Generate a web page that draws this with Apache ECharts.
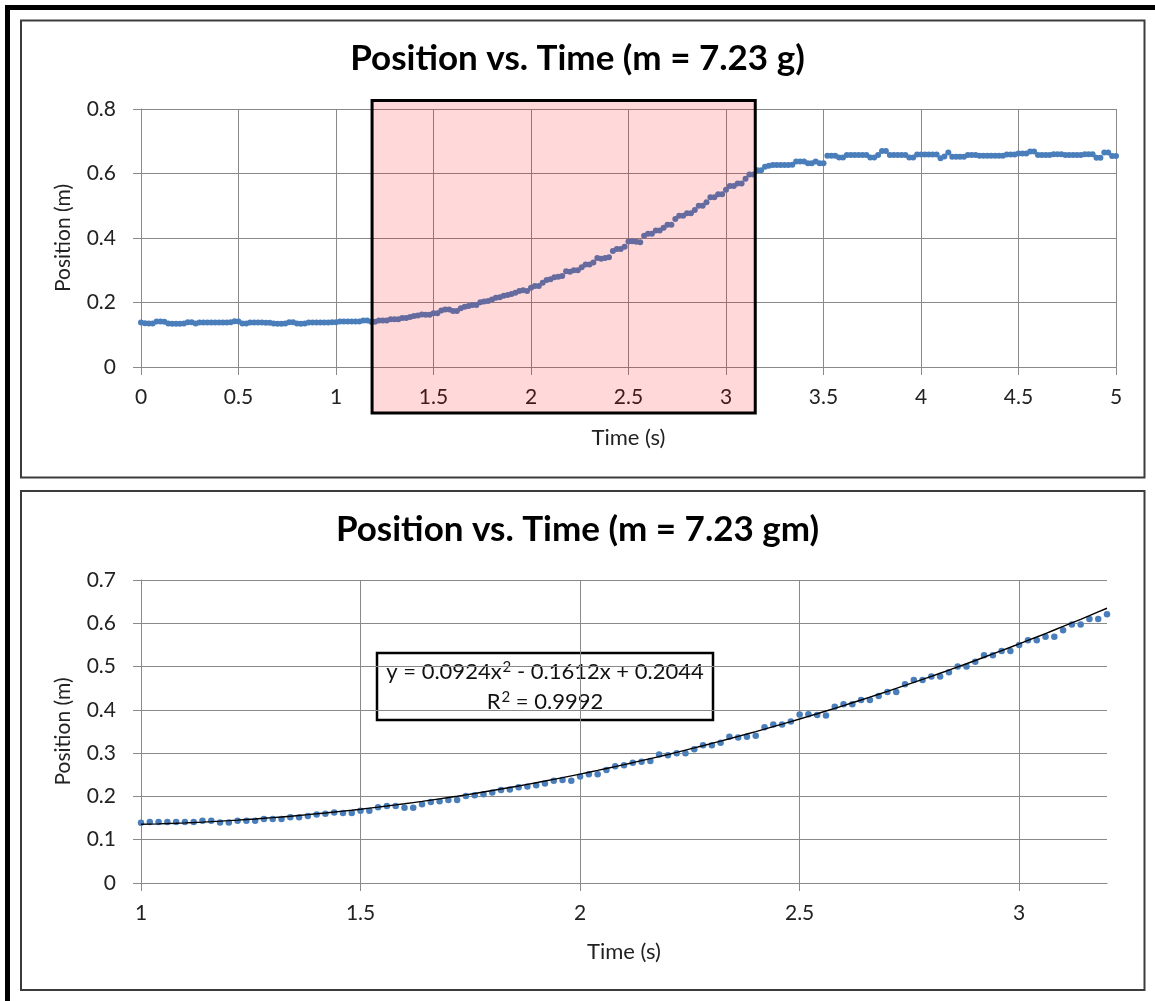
<!DOCTYPE html>
<html>
<head>
<meta charset="utf-8">
<script src="https://cdn.jsdelivr.net/npm/echarts@6/dist/echarts.min.js"></script>
<style>
html,body{margin:0;padding:0;background:#fff;}
#c{width:1155px;height:1001px;}
</style>
</head>
<body>
<div id="c"></div>
<script>
// ---------------- data ----------------
const SAMPLE_STEP = 0.02; // s between samples, first sample at t = 0

// position (m), t = 0.00 … 0.98 s (cart at rest)
const posRest = [
  0.138,0.136,0.135,0.135,0.141,0.141,0.140,0.135,0.134,0.134,
  0.134,0.135,0.139,0.139,0.135,0.138,0.138,0.138,0.138,0.138,
  0.138,0.138,0.138,0.139,0.142,0.141,0.135,0.135,0.138,0.138,
  0.138,0.138,0.137,0.137,0.135,0.134,0.134,0.135,0.139,0.139,
  0.135,0.134,0.135,0.138,0.138,0.138,0.138,0.138,0.138,0.139
];

// position (m), t = 1.00 … 3.20 s (accelerating part, shown in lower chart)
const posMotion = [
  0.139,0.141,0.141,0.141,0.141,0.141,0.141,0.144,0.144,0.140,
  0.140,0.144,0.144,0.144,0.148,0.148,0.148,0.152,0.152,0.155,
  0.158,0.160,0.163,0.162,0.162,0.167,0.167,0.175,0.178,0.178,
  0.174,0.174,0.182,0.187,0.189,0.192,0.192,0.201,
  0.203,0.205,0.209,0.215,0.216,0.221,0.223,0.226,0.230,0.236,
  0.238,0.236,0.246,0.251,0.251,0.261,0.270,0.272,0.278,0.280,
  0.282,0.297,0.295,0.300,0.300,0.309,0.318,0.318,0.324,0.338,
  0.336,0.338,0.340,0.360,0.366,0.366,0.373,
  0.389,0.390,0.388,0.387,0.407,0.413,0.413,0.423,0.423,0.432,
  0.441,0.441,0.459,0.469,0.469,0.477,0.477,0.487,0.500,0.500,
  0.511,0.526,0.526,0.536,0.536,0.550,0.561,0.561,0.569,0.569,
  0.584,0.597,0.597,0.610,0.610,0.621
];

// position (m), t = 3.22 … 5.00 s (cart stopped)
const posStopped = [
  0.624,0.626,0.626,0.626,0.626,0.626,0.627,0.637,0.637,0.637,
  0.632,0.632,0.637,0.632,0.632,0.655,0.655,0.655,0.650,0.650,
  0.657,0.657,0.657,0.657,0.657,0.657,0.650,0.650,0.657,0.670,
  0.670,0.657,0.657,0.657,0.657,0.657,0.650,0.650,0.659,0.659,
  0.659,0.659,0.659,0.659,0.647,0.653,0.665,0.652,0.652,0.652,
  0.652,0.657,0.657,0.657,0.655,0.655,0.655,0.655,0.655,0.655,
  0.655,0.659,0.659,0.659,0.662,0.662,0.662,0.668,0.668,0.657,
  0.657,0.657,0.657,0.660,0.660,0.660,0.657,0.657,0.657,0.657,
  0.657,0.660,0.660,0.660,0.649,0.649,0.665,0.665,0.654,0.654
];

// polynomial trendline shown on the lower chart: y = a x^2 + b x + c
const fitCoeffs = [0.0924, -0.1612, 0.2044];
const fitR2 = 0.9992;

// highlighted region on the upper chart (time s, position m)
const highlightTime = [1.185, 3.15];
const highlightPos  = [0.826, -0.143];

const titles = ['Position vs. Time (m = 7.23 g)', 'Position vs. Time (m = 7.23 gm)'];
const xNames = ['Time (s)', 'Time (s)'];
const yNames = ['Position (m)', 'Position (m)'];
const xTicksBottom = [1, 1.5, 2, 2.5, 3];

// ---------------- build ----------------
const allPos = posRest.concat(posMotion, posStopped);
const times = allPos.map((_, i) => Math.round(i * SAMPLE_STEP * 100) / 100);
const fullData = times.map((t, i) => [t, allPos[i]]);
const motionStart = posRest.length;
const motionData = fullData.slice(motionStart, motionStart + posMotion.length);
const trendData = motionData.map(d => [d[0], fitCoeffs[0]*d[0]*d[0] + fitCoeffs[1]*d[0] + fitCoeffs[2]]);

const FONT = 'Lato';
const GRID = '#898989';
const BLUE = '#4a7ebb';

function xAxisCfg(gi, min, max, name, gap, custom) {
  const o = {
    gridIndex: gi, type: 'value', min: min, max: max, interval: 0.5,
    name: name, nameLocation: 'middle', nameGap: gap,
    nameTextStyle: {fontFamily: FONT, fontSize: 22, color: '#222'},
    axisLine: {show: true, onZero: false, lineStyle: {color: GRID, width: 1}},
    axisTick: {show: true, inside: false, length: 8, lineStyle: {color: GRID, width: 1}},
    splitLine: {show: true, lineStyle: {color: GRID, width: 1}},
    axisLabel: {fontFamily: FONT, fontSize: 21, color: '#222', margin: 20}
  };
  if (custom) {
    o.axisTick.customValues = custom;
    o.axisLabel.customValues = custom;
  }
  return o;
}
function yAxisCfg(gi, max, interval, name) {
  return {
    gridIndex: gi, type: 'value', min: 0, max: max, interval: interval,
    name: name, nameLocation: 'middle', nameGap: 67,
    nameTextStyle: {fontFamily: FONT, fontSize: 21, color: '#222'},
    axisLine: {show: true, lineStyle: {color: GRID, width: 1}},
    axisTick: {show: true, inside: false, length: 8, lineStyle: {color: GRID, width: 1}},
    splitLine: {show: true, lineStyle: {color: GRID, width: 1}},
    axisLabel: {fontFamily: FONT, fontSize: 21, color: '#222', margin: 25}
  };
}

const eqRich = 'y = ' + fitCoeffs[0] + 'x{sup|2} ' + (fitCoeffs[1] < 0 ? '- ' : '+ ') +
  Math.abs(fitCoeffs[1]) + 'x + ' + fitCoeffs[2];
const r2Rich = 'R{sup|2} = ' + fitR2;
const eqStyle = {
  fontFamily: FONT, fontSize: 22, fill: '#111', align: 'center', verticalAlign: 'middle',
  rich: {sup: {fontFamily: FONT, fontSize: 15, fill: '#111', padding: [0, 0, 9, 1]}}
};

const chart = echarts.init(document.getElementById('c'), null, {renderer: 'canvas'});
chart.setOption({
  animation: false,
  backgroundColor: '#fff',
  title: [
    {text: titles[0], left: 'center', top: 36,
     textStyle: {fontFamily: FONT, fontWeight: 'bold', fontSize: 35, color: '#000'}},
    {text: titles[1], left: 'center', top: 507,
     textStyle: {fontFamily: FONT, fontWeight: 'bold', fontSize: 35, color: '#000'}}
  ],
  grid: [
    {left: 141, top: 109, width: 975, height: 258, containLabel: false},
    {left: 141, top: 580, width: 966, height: 303, containLabel: false}
  ],
  xAxis: [
    xAxisCfg(0, 0, 5, xNames[0], 60, null),
    xAxisCfg(1, 1, 3.2, xNames[1], 58, xTicksBottom)
  ],
  yAxis: [
    yAxisCfg(0, 0.8, 0.2, yNames[0]),
    yAxisCfg(1, 0.7, 0.1, yNames[1])
  ],
  series: [
    {type: 'scatter', xAxisIndex: 0, yAxisIndex: 0, data: fullData,
     symbol: 'circle', symbolSize: 6, itemStyle: {color: BLUE, opacity: 1}, z: 2},
    {type: 'scatter', xAxisIndex: 1, yAxisIndex: 1, data: motionData,
     symbol: 'circle', symbolSize: 6.5, itemStyle: {color: BLUE, opacity: 1}, z: 2},
    {type: 'line', xAxisIndex: 1, yAxisIndex: 1, data: trendData,
     showSymbol: false, symbol: 'none', lineStyle: {color: '#000', width: 1.4}, z: 3}
  ],
  graphic: [
    {id: 'outer', type: 'rect', z: 0, silent: true,
     shape: {x: 7.5, y: 7.5, width: 1300, height: 1100},
     style: {fill: null, stroke: '#000', lineWidth: 5}},
    {id: 'panel1', type: 'rect', z: 0, silent: true,
     shape: {x: 21, y: 20.5, width: 1123.5, height: 457},
     style: {fill: null, stroke: '#3c3c3c', lineWidth: 2}},
    {id: 'panel2', type: 'rect', z: 0, silent: true,
     shape: {x: 21, y: 491, width: 1123.5, height: 499},
     style: {fill: null, stroke: '#3c3c3c', lineWidth: 2}},
    {id: 'eqbox', type: 'group', z: 20, children: [
      {type: 'rect', shape: {x: 377, y: 653, width: 336, height: 67},
       style: {fill: '#fff', stroke: '#000', lineWidth: 2.5}},
      {type: 'text', x: 545, y: 672, style: Object.assign({text: eqRich}, eqStyle)},
      {type: 'text', x: 545, y: 702, style: Object.assign({text: r2Rich}, eqStyle)}
    ]}
  ]
});

// translucent highlight box drawn over the upper chart, placed from data coordinates
const pA = chart.convertToPixel({gridIndex: 0}, [highlightTime[0], highlightPos[0]]);
const pB = chart.convertToPixel({gridIndex: 0}, [highlightTime[1], highlightPos[1]]);
chart.setOption({
  graphic: [
    {id: 'highlight', type: 'rect', z: 15, silent: true,
     shape: {x: pA[0], y: pA[1], width: pB[0] - pA[0], height: pB[1] - pA[1]},
     style: {fill: 'rgba(255,0,0,0.15)', stroke: '#000', lineWidth: 3}}
  ]
});
</script>
</body>
</html>
